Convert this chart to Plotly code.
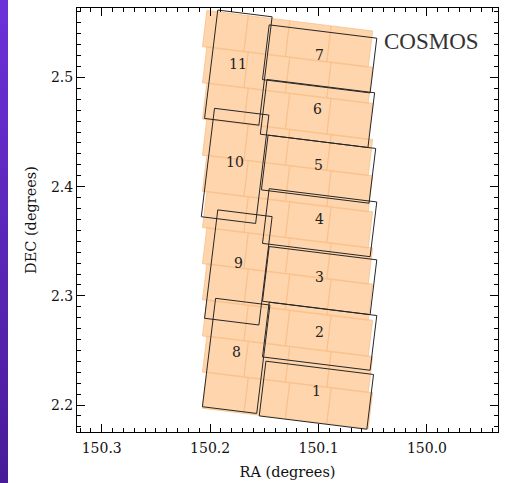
import math
import plotly.graph_objects as go

# ---------------- data ----------------
pointing_id = ["1", "2", "3", "4", "5", "6", "7", "8", "9", "10", "11"]
pointing_ra = [150.102, 150.099, 150.099, 150.099, 150.100, 150.101, 150.099,
               150.176, 150.174, 150.177, 150.174]
pointing_dec = [2.209, 2.263, 2.314, 2.367, 2.416, 2.467, 2.517,
                2.245, 2.326, 2.419, 2.509]
pointing_orient = ["wide", "wide", "wide", "wide", "wide", "wide", "wide",
                   "tall", "tall", "tall", "tall"]

# orange mosaic: top-left corner of the first tile in each row
mosaic_row_ra = [150.203, 150.203, 150.203, 150.203, 150.203, 150.203,
                 150.203, 150.203, 150.203, 150.203, 150.203]
mosaic_row_dec = [2.5613, 2.5282, 2.4951, 2.4620, 2.4288, 2.3957,
                  2.3626, 2.3295, 2.2964, 2.2633, 2.2302]
mosaic_cols = [0, 1, 2, 3]

x_ticks = [150.3, 150.2, 150.1, 150.0]
y_ticks = [2.2, 2.3, 2.4, 2.5]

# ---------------- geometry constants ----------------
ROT = math.radians(7.0)
FIELD_LONG, FIELD_SHORT = 0.100, 0.0505
TILE_W, TILE_H = 0.0385, 0.0334
R = (-math.cos(ROT), -math.sin(ROT))   # screen-right direction in (RA, DEC)
U = (-math.sin(ROT), math.cos(ROT))    # screen-up direction
D = (-U[0], -U[1])

SERIF = "DejaVu Serif"

# orange tiles
tx, ty = [], []
for ra0, dec0 in zip(mosaic_row_ra, mosaic_row_dec):
    for i in mosaic_cols:
        qx = ra0 + i * TILE_W * R[0]
        qy = dec0 + i * TILE_W * R[1]
        pts = [(qx, qy),
               (qx + TILE_W * R[0], qy + TILE_W * R[1]),
               (qx + TILE_W * R[0] + TILE_H * D[0], qy + TILE_W * R[1] + TILE_H * D[1]),
               (qx + TILE_H * D[0], qy + TILE_H * D[1])]
        for p in pts + [pts[0]]:
            tx.append(p[0]); ty.append(p[1])
        tx.append(None); ty.append(None)

# black pointing outlines
bx, by = [], []
for ra, dec, o in zip(pointing_ra, pointing_dec, pointing_orient):
    a = FIELD_LONG / 2 if o == "wide" else FIELD_SHORT / 2
    b = FIELD_SHORT / 2 if o == "wide" else FIELD_LONG / 2
    corners = []
    for sa, sb in [(-1, 1), (1, 1), (1, -1), (-1, -1), (-1, 1)]:
        corners.append((ra + sa * a * R[0] + sb * b * U[0],
                        dec + sa * a * R[1] + sb * b * U[1]))
    for p in corners:
        bx.append(p[0]); by.append(p[1])
    bx.append(None); by.append(None)

fig = go.Figure()
fig.add_trace(go.Scatter(x=tx, y=ty, mode="lines", fill="toself",
                         fillcolor="#FED5AC",
                         line=dict(color="#F9C08A", width=0.8),
                         hoverinfo="skip", showlegend=False))
fig.add_trace(go.Scatter(x=bx, y=by, mode="lines",
                         line=dict(color="#262626", width=1),
                         hoverinfo="skip", showlegend=False))

for pid, ra, dec in zip(pointing_id, pointing_ra, pointing_dec):
    fig.add_annotation(x=ra, y=dec, text=pid, showarrow=False, yshift=4,
                       font=dict(family=SERIF, size=14, color="#222222"))

fig.add_annotation(xref="paper", yref="paper", x=0.96, y=0.922,
                   xanchor="right", yanchor="middle", text="COSMOS",
                   showarrow=False,
                   font=dict(family="Liberation Serif", size=23, color="#333333"))

grad_svg = ("data:image/svg+xml;utf8,"
            "<svg xmlns='http://www.w3.org/2000/svg' width='10' height='100' preserveAspectRatio='none'>"
            "<defs><linearGradient id='g' x1='0' y1='0' x2='0' y2='1'>"
            "<stop offset='0' stop-color='%236C30D8'/><stop offset='1' stop-color='%23481C98'/>"
            "</linearGradient></defs><rect width='10' height='100' fill='url(%23g)'/></svg>")

PL, PR, PT, PB = 77, 8, 8, 51
pw, ph = 506 - PL - PR, 483 - PT - PB
fig.add_layout_image(dict(source=grad_svg, xref="paper", yref="paper",
                          x=-PL / pw, y=1 + PT / ph, sizex=8 / pw, sizey=483 / ph,
                          sizing="stretch", xanchor="left", yanchor="top",
                          layer="below"))

axis_common = dict(showline=True, linecolor="black", linewidth=1, mirror="ticks",
                   ticks="inside", ticklen=8, tickwidth=1, tickcolor="black",
                   showgrid=False, zeroline=False,
                   tickfont=dict(family=SERIF, size=14, color="#111111"),
                   minor=dict(ticks="inside", ticklen=4, tickwidth=1,
                              tickcolor="black", dtick=0.01, showgrid=False))

fig.update_xaxes(range=[150.3228, 149.9345], tickvals=x_ticks,
                 ticktext=[f"{v:.1f}" for v in x_ticks],
                 ticklabelstandoff=3,
                 title=dict(text="RA (degrees)", standoff=12,
                            font=dict(family=SERIF, size=14.5, color="#111111")),
                 **axis_common)
fig.update_yaxes(range=[2.1753, 2.5636], tickvals=y_ticks,
                 ticktext=[f"{v:.1f}" for v in y_ticks],
                 title=dict(text="DEC (degrees)", standoff=10,
                            font=dict(family=SERIF, size=14.5, color="#111111")),
                 **axis_common)

fig.update_layout(width=506, height=483,
                  margin=dict(l=PL, r=PR, t=PT, b=PB, autoexpand=False),
                  paper_bgcolor="white", plot_bgcolor="white")

fig.write_html("out.html", config={"displayModeBar": False},
               post_script="document.body.style.margin='0px';document.body.style.padding='0px';")
